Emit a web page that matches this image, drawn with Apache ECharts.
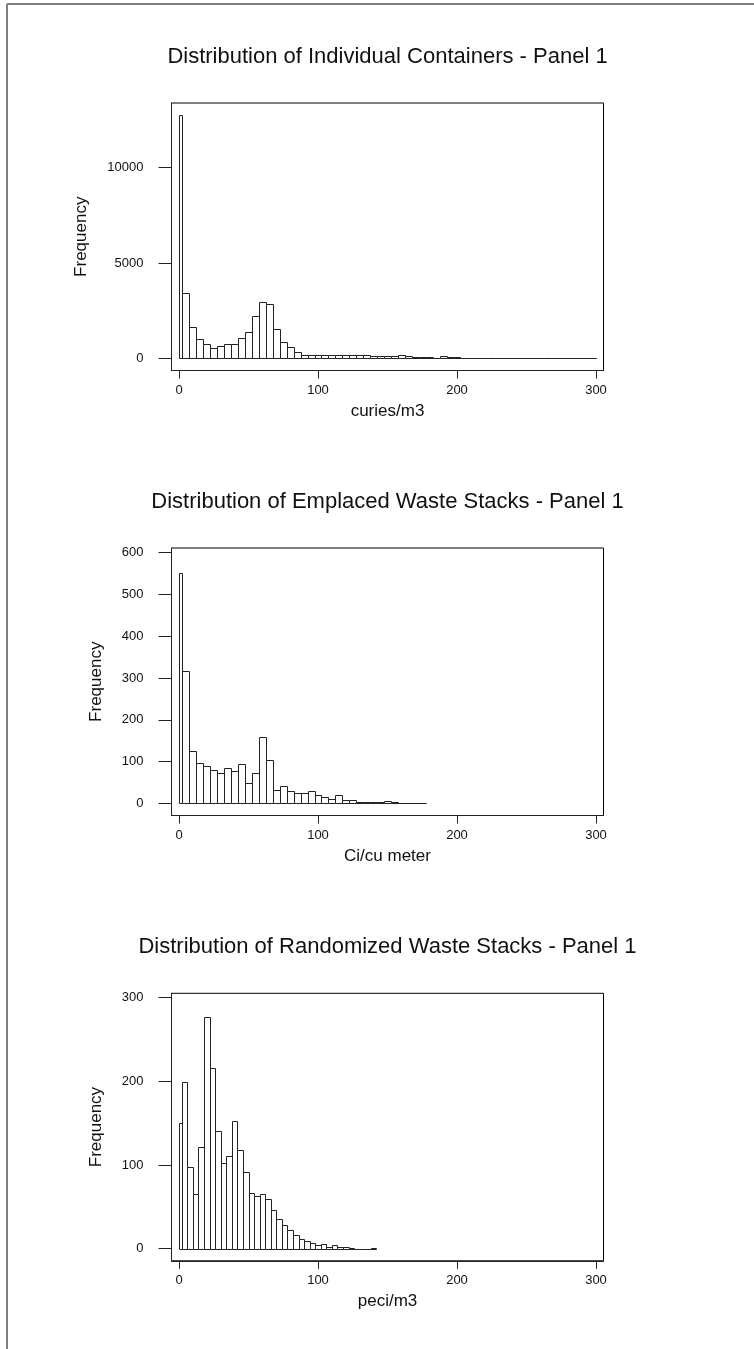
<!DOCTYPE html>
<html>
<head>
<meta charset="utf-8">
<script src="https://cdn.jsdelivr.net/npm/echarts@6/dist/echarts.min.js"></script>
<style>
html,body{margin:0;padding:0;background:#fff;}
#c{width:754px;height:1349px;}
</style>
</head>
<body>
<div id="c"></div>
<script>
// ---------- data ----------
const titles = [
  'Distribution of Individual Containers - Panel 1',
  'Distribution of Emplaced Waste Stacks - Panel 1',
  'Distribution of Randomized Waste Stacks - Panel 1'
];
const xNames = ['curies/m3', 'Ci/cu meter', 'peci/m3'];
const yName = 'Frequency';
const xTicks = [0, 100, 200, 300];
const yTicks1 = [0, 5000, 10000];
const yTicks2 = [0, 100, 200, 300, 400, 500, 600];
const yTicks3 = [0, 100, 200, 300];

const breaks1 = [0,2.5,7.5,12.5,17.5,22.5,27.5,32.5,37.5,42.5,47.5,52.5,57.5,62.5,67.5,72.5,77.5,82.5,87.5,92.5,97.5,102.5,107.5,112.5,117.5,122.5,127.5,132.5,137.5,142.5,147.5,152.5,157.5,162.5,167.5,172.5,177.5,182.5,187.5,192.5,197.5,202.5,207.5,212.5,217.5,222.5,227.5,232.5,237.5,242.5,247.5,252.5,257.5,262.5,267.5,272.5,277.5,282.5,287.5,292.5,297.5,300];
const counts1 = [12750,3410,1626,1000,766,525,630,766,766,1081,1364,2204,2938,2849,1553,855,577,320,195,200,200,195,190,160,190,185,160,200,150,150,120,150,165,105,90,90,100,45,105,55,100,35,35,30,30,25,20,5,50,0,0,0,0,0,0,0,0,0,0,0,0];

const breaks2 = [0,2.5,7.5,12.5,17.5,22.5,27.5,32.5,37.5,42.5,47.5,52.5,57.5,62.5,67.5,72.5,77.5,82.5,87.5,92.5,97.5,102.5,107.5,112.5,117.5,122.5,127.5,132.5,137.5,142.5,147.5,152.5,157.5,162.5,167.5,172.5,177.5];
const counts2 = [551,317,126,96,89,79,72,84,77,93,49,72,158,103,33,42,30,25,24,29,19,14,10,19,9,7,2,4,4,2,5,2,1,0,0,0];

const breaks3 = [0,2,6,10,14,18,22,26,30,34,38,42,46,50,54,58,62,66,70,74,78,82,86,90,94,98,102,106,110,114,118,122,126,130,134,138,142];
const counts3 = [150,199,98,65,122,277,216,141,102,111,153,118,92,67,63,65,59,46,36,28,22,16,12,9,7,4,5,2,4,2,2,1,0,0,0,1];

// ---------- layout ----------
const FONT = '"Liberation Sans", Arial, Helvetica, sans-serif';
const TXT = '#111';
const LINE = '#222';
const gridTops = [103, 548, 993.3];
const gridH = 267.5;
const gridLeft = 171.5, gridW = 432;
const yRanges = [[-629, 13391], [-29.2, 611.2], [-14.5, 305.3]];
const yTickSets = [yTicks1, yTicks2, yTicks3];
const yNameGaps = [82, 67, 67];
const binSets = [[breaks1, counts1], [breaks2, counts2], [breaks3, counts3]];

function toBins(br, ct) {
  return ct.map((c, i) => [br[i], br[i + 1], c]);
}

function renderItem(params, api) {
  const x0 = api.value(0), x1 = api.value(1), c = api.value(2);
  const pTop = api.coord([x0, c]);
  const pBot = api.coord([x1, 0]);
  const xa = Math.round(pTop[0]) + 0.5;
  const xb = Math.round(pBot[0]) + 0.5;
  const ya = Math.round(pTop[1]) + 0.5;
  const yb = Math.round(pBot[1]) + 0.5;
  return {
    type: 'rect',
    shape: { x: xa, y: ya, width: xb - xa, height: yb - ya },
    style: { fill: '#fff', stroke: LINE, lineWidth: 1 }
  };
}

const grids = [], xAxes = [], yAxes = [], series = [], graphics = [];
for (let i = 0; i < 3; i++) {
  grids.push({
    left: gridLeft, top: gridTops[i], width: gridW, height: gridH,
    show: true, borderColor: '#000', borderWidth: 1, backgroundColor: 'transparent',
    containLabel: false, outerBoundsMode: 'none'
  });
  xAxes.push({
    gridIndex: i, type: 'value', min: -5.4, max: 305.4, position: 'bottom',
    axisLine: { show: true, onZero: false, lineStyle: { color: LINE, width: 1 } },
    axisTick: { show: true, length: 8, customValues: xTicks, lineStyle: { color: LINE, width: 1 } },
    axisLabel: { customValues: xTicks, margin: 13, fontSize: 13, fontFamily: FONT, color: TXT,
                 formatter: v => String(v) },
    splitLine: { show: false },
    name: xNames[i], nameLocation: 'middle', nameGap: 32,
    nameTextStyle: { fontSize: 17, fontFamily: FONT, color: TXT }
  });
  yAxes.push({
    gridIndex: i, type: 'value', min: yRanges[i][0], max: yRanges[i][1], position: 'left',
    axisLine: { show: true, onZero: false, lineStyle: { color: LINE, width: 1 } },
    axisTick: { show: true, length: 13, customValues: yTickSets[i], lineStyle: { color: LINE, width: 1 } },
    axisLabel: { customValues: yTickSets[i], margin: 28, fontSize: 13, fontFamily: FONT, color: TXT,
                 formatter: v => String(v) },
    splitLine: { show: false },
    name: yName, nameLocation: 'middle', nameGap: yNameGaps[i], nameRotate: 90,
    nameTextStyle: { fontSize: 17, fontFamily: FONT, color: TXT }
  });
  series.push({
    type: 'custom', xAxisIndex: i, yAxisIndex: i, renderItem: renderItem,
    encode: { x: [0, 1], y: 2 }, silent: true, clip: false,
    data: toBins(binSets[i][0], binSets[i][1])
  });
  graphics.push({
    type: 'text', x: gridLeft + gridW / 2, y: gridTops[i] - 46,
    style: { text: titles[i], fontSize: 22, fontFamily: FONT, fill: TXT,
             align: 'center', verticalAlign: 'middle', textAlign: 'center', textVerticalAlign: 'middle' }
  });
}
// page frame
graphics.push({ type: 'line', shape: { x1: 7, y1: 4, x2: 754, y2: 4 }, style: { stroke: '#808080', lineWidth: 2 } });
graphics.push({ type: 'line', shape: { x1: 7, y1: 4, x2: 7, y2: 1349 }, style: { stroke: '#808080', lineWidth: 2 } });

const chart = echarts.init(document.getElementById('c'), null, { renderer: 'canvas', width: 754, height: 1349 });
chart.setOption({
  animation: false,
  backgroundColor: '#fff',
  grid: grids, xAxis: xAxes, yAxis: yAxes, series: series, graphic: graphics
});
</script>
</body>
</html>
